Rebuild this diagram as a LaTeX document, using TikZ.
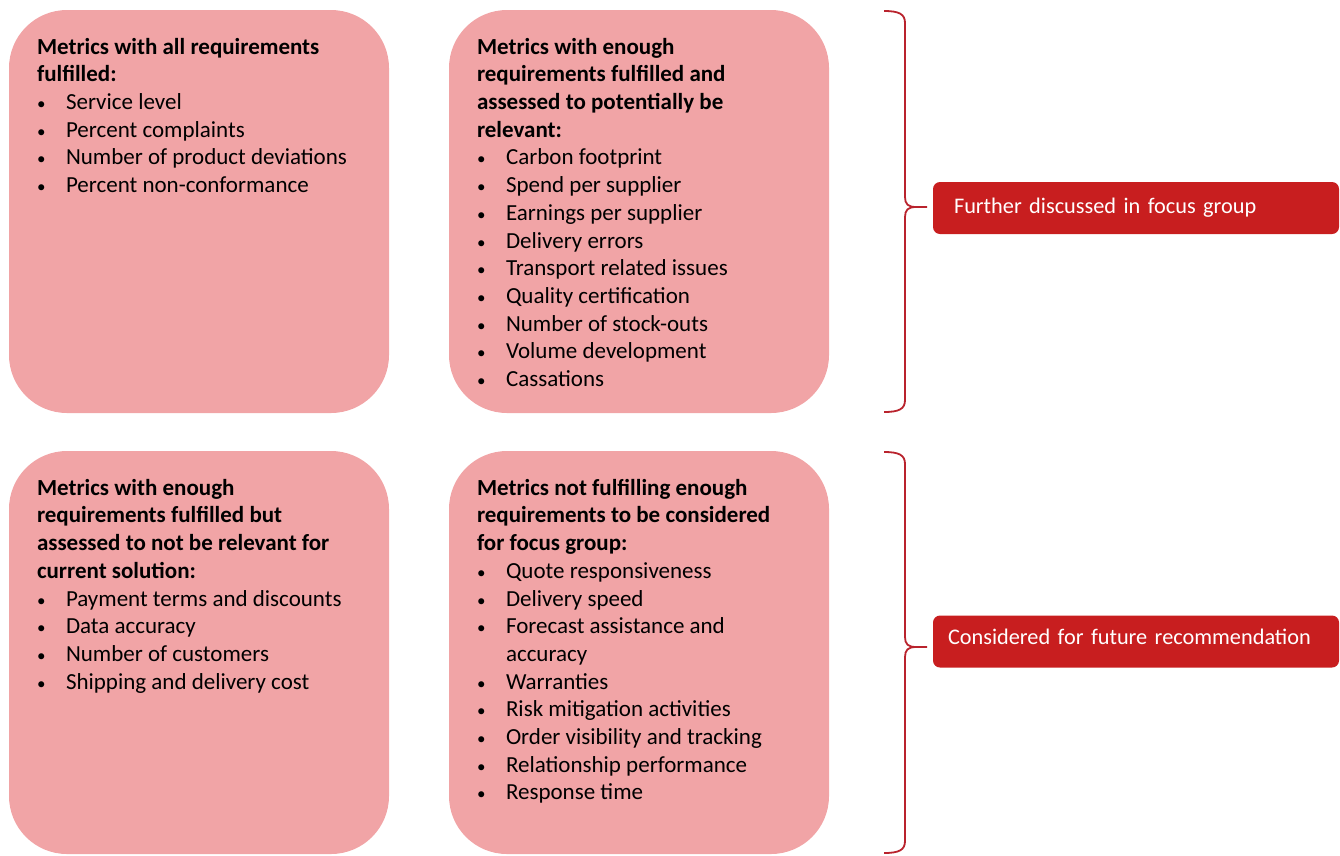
\documentclass[tikz,border=0pt]{standalone}
\usepackage{fontspec}
\setmainfont{Carlito}
\definecolor{boxpink}{RGB}{241,164,166}
\definecolor{tagred}{RGB}{200,30,31}
\definecolor{bracered}{RGB}{185,35,45}
\tikzset{
  metricbox/.style={fill=boxpink, rounded corners=58pt, minimum width=380pt, minimum height=403pt, inner sep=0pt},
  headline/.style={anchor=mid west, inner sep=0pt, font={\fontsize{23}{27.7}\selectfont\bfseries}},
  bulletmark/.style={anchor=mid west, inner sep=0pt, font={\fontsize{17}{20}\selectfont}},
  itemline/.style={anchor=mid west, inner sep=0pt},
  tagbox/.style={fill=tagred, text=white, rounded corners=7pt, minimum height=52pt, align=left, inner ysep=0pt,
    font={\fontsize{22.3}{27}\selectfont}},
  bracepen/.style={draw=bracered, line width=1.8pt}
}
\begin{document}
\begin{tikzpicture}[x=1pt,y=-1pt,font=\fontsize{23}{27.7}\selectfont]
  \def\pitch{27.7}
  \def\down{42}
  \useasboundingbox (0,0) rectangle (1340,855);

  \node[metricbox] (allreq) at (199,211.5) {};
  \node[metricbox] (relevant) at (639,211.5) {};
  \node[metricbox] (notrelevant) at (199,652.5) {};
  \node[metricbox] (notenough) at (639,652.5) {};

  \foreach \i/\txt in {0/Metrics with all requirements, 1/fulfilled:}
    \node[headline] (allreq-h\i) at ([shift={(28,\down+\i*\pitch)}]allreq.north west) {\txt};
  \foreach \i/\txt in {
    2/Service level,
    3/Percent complaints,
    4/Number of product deviations,
    5/Percent non-conformance
  }{
    \node[bulletmark] (allreq-b\i) at ([shift={(28,\down+\i*\pitch)}]allreq.north west) {•};
    \node[itemline] (allreq-i\i) at ([shift={(57,\down+\i*\pitch)}]allreq.north west) {\txt};
  }

  \foreach \i/\txt in {
    0/Metrics with enough,
    1/requirements fulfilled and,
    2/assessed to potentially be,
    3/relevant:
  }
    \node[headline] (relevant-h\i) at ([shift={(28,\down+\i*\pitch)}]relevant.north west) {\txt};
  \foreach \i/\txt in {
    4/Carbon footprint,
    5/Spend per supplier,
    6/Earnings per supplier,
    7/Delivery errors,
    8/Transport related issues,
    9/Quality certification,
    10/Number of stock-outs,
    11/Volume development,
    12/Cassations
  }{
    \node[bulletmark] (relevant-b\i) at ([shift={(28,\down+\i*\pitch)}]relevant.north west) {•};
    \node[itemline] (relevant-i\i) at ([shift={(57,\down+\i*\pitch)}]relevant.north west) {\txt};
  }

  \foreach \i/\txt in {
    0/Metrics with enough,
    1/requirements fulfilled but,
    2/assessed to not be relevant for,
    3/current solution:
  }
    \node[headline] (notrelevant-h\i) at ([shift={(28,\down+\i*\pitch)}]notrelevant.north west) {\txt};
  \foreach \i/\txt in {
    4/Payment terms and discounts,
    5/Data accuracy,
    6/Number of customers,
    7/Shipping and delivery cost
  }{
    \node[bulletmark] (notrelevant-b\i) at ([shift={(28,\down+\i*\pitch)}]notrelevant.north west) {•};
    \node[itemline] (notrelevant-i\i) at ([shift={(57,\down+\i*\pitch)}]notrelevant.north west) {\txt};
  }

  \foreach \i/\txt in {
    0/Metrics not fulfilling enough,
    1/requirements to be considered,
    2/for focus group:
  }
    \node[headline] (notenough-h\i) at ([shift={(28,\down+\i*\pitch)}]notenough.north west) {\txt};
  \foreach \i/\txt in {
    3/Quote responsiveness,
    4/Delivery speed,
    5/Forecast assistance and,
    7/Warranties,
    8/Risk mitigation activities,
    9/Order visibility and tracking,
    10/Relationship performance,
    11/Response time
  }{
    \node[bulletmark] (notenough-b\i) at ([shift={(28,\down+\i*\pitch)}]notenough.north west) {•};
    \node[itemline] (notenough-i\i) at ([shift={(57,\down+\i*\pitch)}]notenough.north west) {\txt};
  }
  \node[itemline] (notenough-i6) at ([shift={(57,\down+6*\pitch)}]notenough.north west) {accuracy};

  \node[tagbox, text width=364pt, inner xsep=21pt] (further) at (1136,208)
    {\raisebox{5pt}{Further discussed in focus group}};
  \node[tagbox, text width=376pt, inner xsep=15pt] (future) at (1136,641.5)
    {\raisebox{9pt}{Considered for future recommendation}};

  \foreach \top/\tip/\bot in {11/207/412, 452/647/853} {
    \draw[bracepen] (884,\top) .. controls (899,\top) and (905,\top+3) .. (905,\top+12)
      -- (905,\tip-10) .. controls (905,\tip-3) and (908,\tip) .. (916,\tip) -- (927,\tip)
      (916,\tip) .. controls (908,\tip) and (905,\tip+3) .. (905,\tip+10)
      -- (905,\bot-12) .. controls (905,\bot-3) and (899,\bot) .. (884,\bot);
  }
\end{tikzpicture}
\end{document}
